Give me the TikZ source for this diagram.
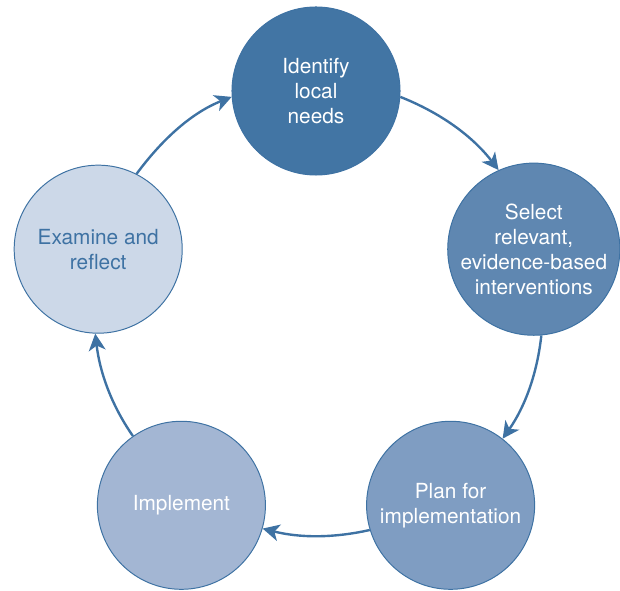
\documentclass[tikz,border=0pt]{standalone}
\usepackage{fontspec}
\setmainfont{TeX Gyre Heros}
\usepackage{xcolor}
\usepackage{tikz}
\usetikzlibrary{arrows.meta}

\definecolor{edgeblue}{RGB}{62,114,163}
\definecolor{needsfill}{RGB}{66,117,164}
\definecolor{selectfill}{RGB}{95,135,177}
\definecolor{planfill}{RGB}{127,157,194}
\definecolor{implfill}{RGB}{163,182,211}
\definecolor{reflectfill}{RGB}{204,216,232}

\begin{document}
\begin{tikzpicture}[
    x=0.025cm, y=0.025cm,
    stage/.style={circle, draw=edgeblue, line width=0.7pt, minimum size=4.2cm, inner sep=0pt, align=center, text=white, font=\fontsize{14.8}{17.8}\selectfont},
    flow/.style={draw=edgeblue, line width=1.7pt, -{Stealth[length=0.42cm, width=0.42cm, inset=0.12cm]}, looseness=0.9},
]
    \useasboundingbox (0,0) rectangle (620,591);

    \node[stage, fill=needsfill] (needs) at (316,500) {Identify\\local\\needs};
    \node[stage, fill=selectfill] (select) at (533.8,341.8) {Select\\relevant,\\evidence-based\\interventions};
    \node[stage, fill=planfill] (plan) at (450.6,85.7) {Plan for\\implementation};
    \node[stage, fill=implfill] (impl) at (181.4,85.7) {Implement};
    \node[stage, fill=reflectfill, text=edgeblue] (reflect) at (98.2,341.8) {Examine and\\reflect};

    \draw[flow] (needs.-4) to[out=-21.6, in=127.5] (select.114.9);
    \draw[flow] (select.-85.1) to[out=-96.3, in=55] (plan.52.2);
    \draw[flow] (plan.-163.6) to[out=-167.3, in=-14.3] (impl.-16.1);
    \draw[flow] (impl.125.9) to[out=124.8, in=-83.3] (reflect.-92.1);
    \draw[flow] (reflect.63.6) to[out=53.5, in=201.6] (needs.184);
\end{tikzpicture}
\end{document}
